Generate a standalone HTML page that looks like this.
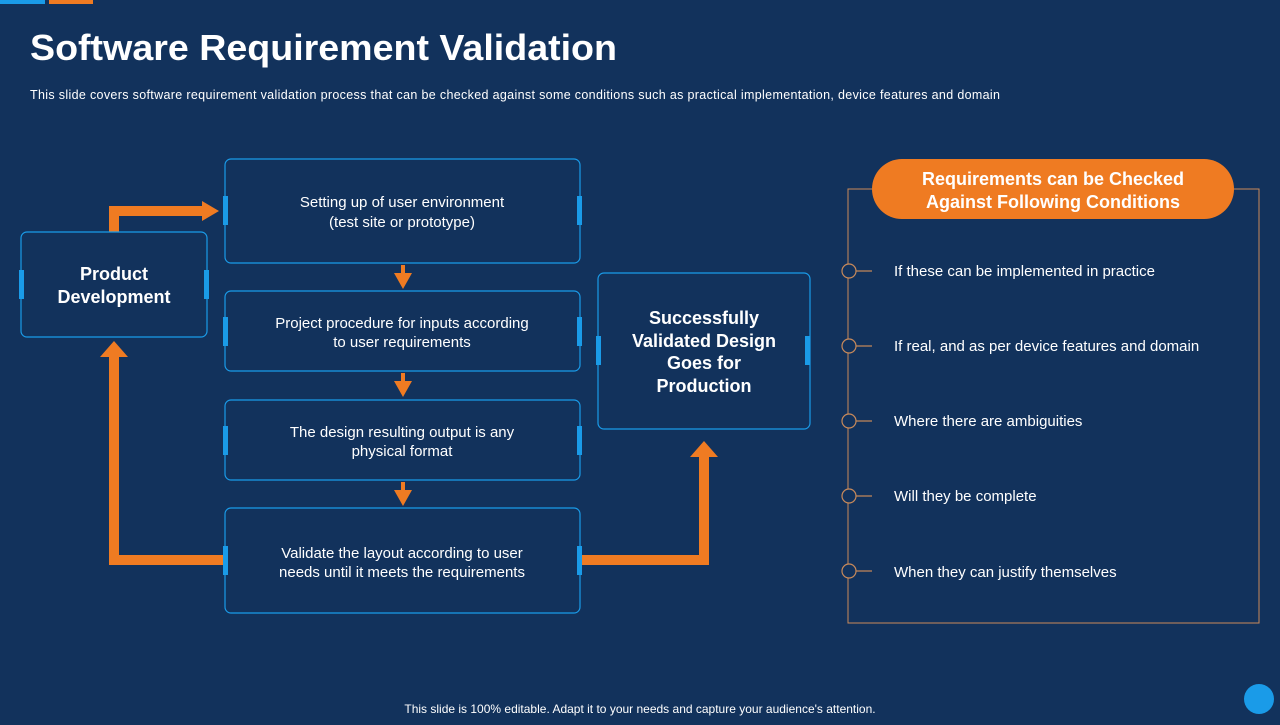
<!DOCTYPE html>
<html><head><meta charset="utf-8"><style>
body{margin:0;background:#12325c;}
svg text{font-family:"Liberation Sans",sans-serif;fill:#fff;}
</style></head><body>
<svg width="1280" height="720" viewBox="0 0 1280 720" xmlns="http://www.w3.org/2000/svg">
<rect width="1280" height="720" fill="#12325c"/>
<rect x="0" y="0" width="45" height="4" fill="#1a9be8"/>
<rect x="49" y="0" width="44" height="4" fill="#ef7b22"/>
<text x="30" y="60" font-size="36" font-weight="bold" textLength="587" lengthAdjust="spacingAndGlyphs">Software Requirement Validation</text>
<text x="30" y="99" font-size="12.5" textLength="970" lengthAdjust="spacing">This slide covers software requirement validation process that can be checked against some conditions such as practical implementation, device features and domain</text>

<g fill="none" stroke="#ef7b22" stroke-width="10">
<polyline points="114,232 114,211 204,211"/>
<polyline points="225,560 114,560 114,356"/>
<polyline points="580,560 704,560 704,456"/>
</g>
<g fill="#ef7b22">
<polygon points="202,201 219,211 202,221"/>
<polygon points="100,357 114,341 128,357"/>
<polygon points="690,457 704,441 718,457"/>
<rect x="401" y="265" width="4" height="10"/><polygon points="394,273 412,273 403,289"/>
<rect x="401" y="373" width="4" height="10"/><polygon points="394,381 412,381 403,397"/>
<rect x="401" y="482" width="4" height="10"/><polygon points="394,490 412,490 403,506"/>
</g>

<g fill="#12325c" stroke="#1a9be8" stroke-width="1.2">
<rect x="21" y="232" width="186" height="105" rx="6"/>
<rect x="225" y="159" width="355" height="104" rx="6"/>
<rect x="225" y="291" width="355" height="80" rx="6"/>
<rect x="225" y="400" width="355" height="80" rx="6"/>
<rect x="225" y="508" width="355" height="105" rx="6"/>
<rect x="598" y="273" width="212" height="156" rx="6"/>
</g>
<g fill="#1a9be8">
<rect x="19" y="270" width="5" height="29"/><rect x="204" y="270" width="5" height="29"/>
<rect x="223" y="196" width="5" height="29"/><rect x="577" y="196" width="5" height="29"/>
<rect x="223" y="317" width="5" height="29"/><rect x="577" y="317" width="5" height="29"/>
<rect x="223" y="426" width="5" height="29"/><rect x="577" y="426" width="5" height="29"/>
<rect x="223" y="546" width="5" height="29"/><rect x="577" y="546" width="5" height="29"/>
<rect x="596" y="336" width="5" height="29"/><rect x="805" y="336" width="5" height="29"/>
</g>

<g font-size="15" text-anchor="middle">
<text x="402" y="207">Setting up of user environment</text>
<text x="402" y="227">(test site or prototype)</text>
<text x="402" y="328">Project procedure for inputs according</text>
<text x="402" y="347">to user requirements</text>
<text x="402" y="437">The design resulting output is any</text>
<text x="402" y="456">physical format</text>
<text x="402" y="558">Validate the layout according to user</text>
<text x="402" y="577">needs until it meets the requirements</text>
</g>
<g font-size="18" font-weight="bold" text-anchor="middle">
<text x="114" y="280">Product</text>
<text x="114" y="303">Development</text>
<text x="704" y="324">Successfully</text>
<text x="704" y="347">Validated Design</text>
<text x="704" y="369">Goes for</text>
<text x="704" y="392">Production</text>
</g>

<rect x="848" y="189" width="411" height="434" fill="none" stroke="#c98a5a" stroke-width="1"/>
<rect x="872" y="159" width="362" height="60" rx="30" fill="#ef7b22"/>
<g font-size="18" font-weight="bold" text-anchor="middle">
<text x="1053" y="185">Requirements can be Checked</text>
<text x="1053" y="208">Against Following Conditions</text>
</g>
<g stroke="#c98a5a" stroke-width="1.2" fill="#12325c">
<circle cx="849" cy="271" r="7"/><line x1="856" y1="271" x2="872" y2="271"/>
<circle cx="849" cy="346" r="7"/><line x1="856" y1="346" x2="872" y2="346"/>
<circle cx="849" cy="421" r="7"/><line x1="856" y1="421" x2="872" y2="421"/>
<circle cx="849" cy="496" r="7"/><line x1="856" y1="496" x2="872" y2="496"/>
<circle cx="849" cy="571" r="7"/><line x1="856" y1="571" x2="872" y2="571"/>
</g>
<g font-size="15">
<text x="894" y="276">If these can be implemented in practice</text>
<text x="894" y="351">If real, and as per device features and domain</text>
<text x="894" y="426">Where there are ambiguities</text>
<text x="894" y="501">Will they be complete</text>
<text x="894" y="577">When they can justify themselves</text>
</g>
<text x="640" y="713" font-size="12" text-anchor="middle">This slide is 100% editable. Adapt it to your needs and capture your audience's attention.</text>
<circle cx="1259" cy="699" r="15" fill="#1a9be8"/>
</svg>
</body></html>
